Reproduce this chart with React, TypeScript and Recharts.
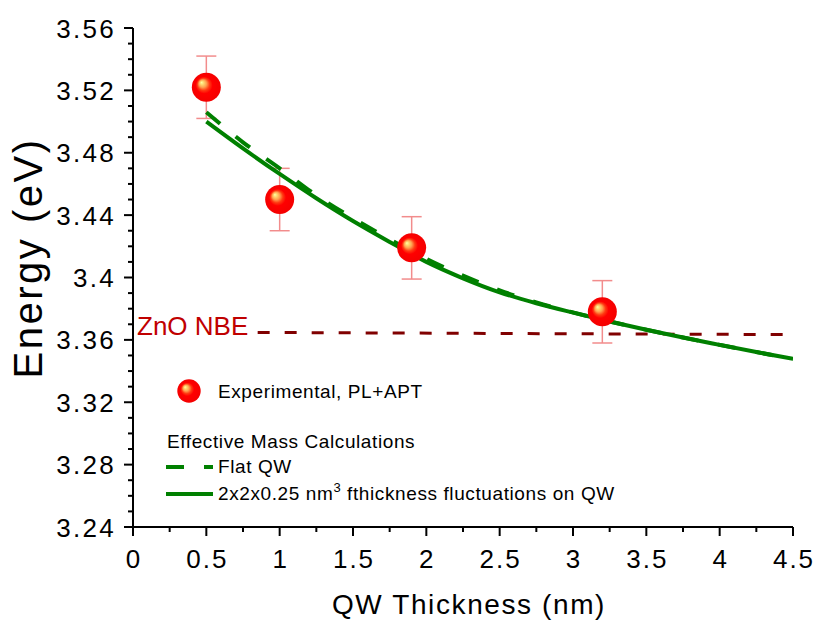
import React from 'react'
import { ComposedChart, Line, Scatter, XAxis, YAxis, ErrorBar } from 'recharts'

// experimental points (PL + APT)
const thickness = [0.5, 1, 1.9, 3.2]
const energy = [3.522, 3.45, 3.419, 3.378]
const energyErr = [0.02, 0.02, 0.02, 0.02]

// effective mass calculations
const calcX = [0.5, 0.75, 1, 1.25, 1.5, 1.75, 2, 2.25, 2.5, 2.75, 3, 3.25, 3.5, 3.75, 4, 4.25, 4.5]
const flatQW = [3.506, 3.4867, 3.47, 3.4527, 3.438, 3.4245, 3.412, 3.4012, 3.3918, 3.384, 3.3776, 3.3718, 3.3665, 3.3615, 3.3568, 3.3522, 3.3478]
const fluctQW = [3.5, 3.4828, 3.4664, 3.4508, 3.4362, 3.4228, 3.41, 3.3995, 3.3905, 3.3835, 3.3775, 3.3718, 3.3665, 3.3615, 3.3568, 3.3522, 3.3478]

// ZnO near band edge
const nbeX = [0.85, 2.5, 4.5]
const nbeEnergy = [3.3648, 3.3641, 3.3634]

const xTicks = [0, 0.25, 0.5, 0.75, 1, 1.25, 1.5, 1.75, 2, 2.25, 2.5, 2.75, 3, 3.25, 3.5, 3.75, 4, 4.25, 4.5]
const xMajor = [0, 0.5, 1, 1.5, 2, 2.5, 3, 3.5, 4, 4.5]
const yTicks = [
  3.24, 3.25, 3.26, 3.27, 3.28, 3.29, 3.3, 3.31, 3.32, 3.33, 3.34, 3.35, 3.36, 3.37, 3.38, 3.39, 3.4,
  3.41, 3.42, 3.43, 3.44, 3.45, 3.46, 3.47, 3.48, 3.49, 3.5, 3.51, 3.52, 3.53, 3.54, 3.55, 3.56,
]
const yMajor = [3.24, 3.28, 3.32, 3.36, 3.4, 3.44, 3.48, 3.52, 3.56]

const FONT = "'Liberation Sans', Arial, sans-serif"
const GREEN = '#008000'

const expData = thickness.map((x, i) => ({ x, y: energy[i], err: energyErr[i] }))
const flatData = calcX.map((x, i) => ({ x, y: flatQW[i] }))
const fluctData = calcX.map((x, i) => ({ x, y: fluctQW[i] }))
const nbeData = nbeX.map((x, i) => ({ x, y: nbeEnergy[i] }))

const isIn = (list: number[], v: number) => list.some(m => Math.abs(m - v) < 1e-6)

function XTick({ x, y, payload }: any) {
  const major = isIn(xMajor, payload.value)
  return (
    <g>
      <line x1={x} x2={x} y1={y} y2={y + (major ? 9 : 5)} stroke="#000" strokeWidth={2} />
      {major && (
        <text x={x + 1} y={y + 41} textAnchor="middle" fontSize={26} letterSpacing={2} fontFamily={FONT} fill="#000">
          {String(payload.value)}
        </text>
      )}
    </g>
  )
}

function YTick({ x, y, payload }: any) {
  const major = isIn(yMajor, payload.value)
  return (
    <g>
      <line x1={x} x2={x - (major ? 9 : 5)} y1={y} y2={y} stroke="#000" strokeWidth={2} />
      {major && (
        <text x={x - 17} y={y + 9.5} textAnchor="end" fontSize={26} letterSpacing={2.3} fontFamily={FONT} fill="#000">
          {String(Number(payload.value.toFixed(2)))}
        </text>
      )}
    </g>
  )
}

const YTitle = () => (
  <text x={42} y={258} transform="rotate(-90 42 258)" textAnchor="middle" fontSize={40} letterSpacing={2.5} fontFamily={FONT} fill="#000">
    Energy (eV)
  </text>
)

const XTitle = () => (
  <text x={469} y={614} textAnchor="middle" fontSize={28} letterSpacing={1.6} fontFamily={FONT} fill="#000">
    QW Thickness (nm)
  </text>
)

const Ball = (props: any) => <circle cx={props.cx} cy={props.cy} r={14.5} fill="url(#ball)" />

function BallGradient({ id }: { id: string }) {
  return (
    <radialGradient id={id} cx="0.5" cy="0.5" r="0.5" fx="0.33" fy="0.33">
      <stop offset="0%" stopColor="#ffffa8" />
      <stop offset="12%" stopColor="#ffd870" />
      <stop offset="26%" stopColor="#ffa050" />
      <stop offset="42%" stopColor="#ff3a12" />
      <stop offset="58%" stopColor="#ff0000" />
      <stop offset="100%" stopColor="#f40000" />
    </radialGradient>
  )
}

export default function App() {
  return (
    <div style={{ position: 'absolute', left: 0, top: 0, width: 816, height: 622, background: '#fff' }}>
      <ComposedChart width={816} height={622} margin={{ top: 28, right: 23, bottom: 0, left: 0 }}>
        <defs>
          <BallGradient id="ball" />
        </defs>
        <XAxis
          dataKey="x"
          type="number"
          domain={[0, 4.5]}
          ticks={xTicks}
          interval={0}
          height={95}
          tickSize={0}
          tickMargin={0}
          tickLine={false}
          axisLine={{ stroke: '#000', strokeWidth: 2 }}
          tick={<XTick />}
          label={<XTitle />}
          allowDataOverflow
        />
        <YAxis
          type="number"
          domain={[3.24, 3.56]}
          ticks={yTicks}
          interval={0}
          width={133}
          tickSize={0}
          tickMargin={0}
          tickLine={false}
          axisLine={{ stroke: '#000', strokeWidth: 2 }}
          tick={<YTick />}
          label={<YTitle />}
          allowDataOverflow
        />
        <Scatter data={expData} dataKey="y" shape={Ball} isAnimationActive={false}>
          <ErrorBar dataKey="err" direction="y" width={10} stroke="#f28c8c" strokeWidth={1.5} isAnimationActive={false} />
        </Scatter>
        <Line data={nbeData} dataKey="y" type="linear" stroke="#800000" strokeWidth={3} strokeDasharray="12 15" dot={false} activeDot={false} isAnimationActive={false} />
        <Line data={flatData} dataKey="y" type="monotone" stroke={GREEN} strokeWidth={4} strokeDasharray="18 20" dot={false} activeDot={false} isAnimationActive={false} />
        <Line data={fluctData} dataKey="y" type="monotone" stroke={GREEN} strokeWidth={4} dot={false} activeDot={false} isAnimationActive={false} />
      </ComposedChart>

      <svg width={816} height={622} style={{ position: 'absolute', left: 0, top: 0, pointerEvents: 'none' }}>
        <defs>
          <BallGradient id="ballLegend" />
        </defs>
        <text x={137} y={335} fontSize={26} fontFamily={FONT} fill="#c00000">ZnO NBE</text>

        <circle cx={189} cy={391} r={11.7} fill="url(#ballLegend)" />
        <text x={218} y={398} fontSize={19} letterSpacing={0.6} fontFamily={FONT} fill="#000">Experimental, PL+APT</text>

        <text x={167} y={448} fontSize={19} letterSpacing={0.6} fontFamily={FONT} fill="#000">Effective Mass Calculations</text>

        <line x1={166} x2={213} y1={467} y2={467} stroke={GREEN} strokeWidth={4} strokeDasharray="18 20" />
        <text x={218} y={473} fontSize={19} letterSpacing={0.6} fontFamily={FONT} fill="#000">Flat QW</text>

        <line x1={166} x2={213} y1={494} y2={494} stroke={GREEN} strokeWidth={4} />
        <text x={218} y={500} fontSize={19} letterSpacing={0.6} fontFamily={FONT} fill="#000">
          2x2x0.25 nm<tspan dy={-8} fontSize={13}>3</tspan><tspan dy={8}> fthickness fluctuations on QW</tspan>
        </text>
      </svg>
    </div>
  )
}
